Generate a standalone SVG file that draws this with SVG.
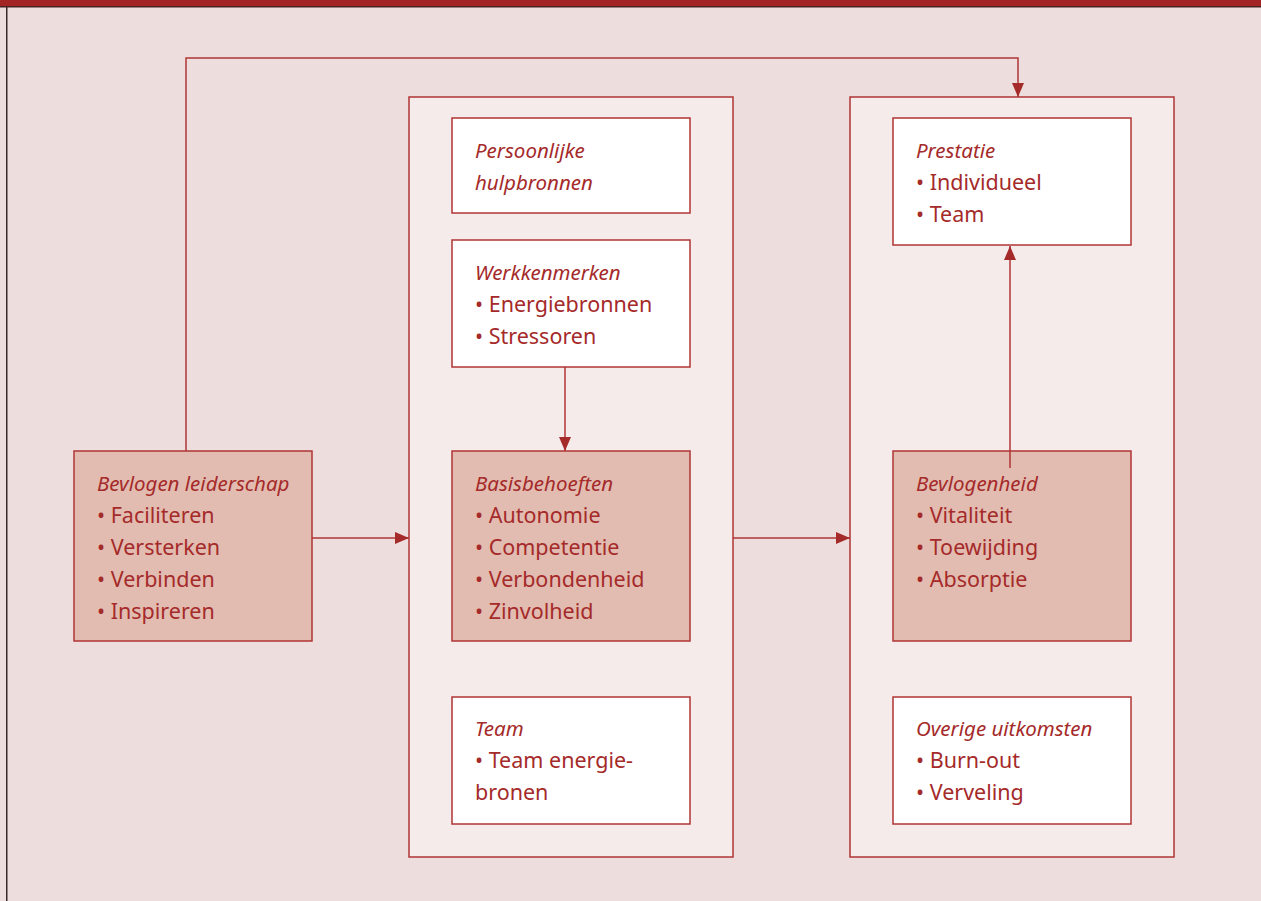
<svg xmlns="http://www.w3.org/2000/svg" width="1261" height="901" viewBox="0 0 1261 901">
<defs>
<style>
.bg{fill:#EDDDDD}
.panel{fill:#F5EBEB;stroke:#B03535;stroke-width:1.5}
.box{fill:#FFFFFF;stroke:#B03535;stroke-width:1.5}
.dark{fill:#E2BCB0;stroke:#B03535;stroke-width:1.5}
.conn{fill:none;stroke:#B03535;stroke-width:1.5}
text{font-family:"Noto Sans","Open Sans",sans-serif;fill:#A52A2A;font-size:21.5px}
.t{font-style:italic;font-size:20.5px}
</style>
<marker id="ah" viewBox="0 0 14 12" refX="14" refY="6" markerWidth="14" markerHeight="12" markerUnits="userSpaceOnUse" orient="auto">
<path d="M0,0 L14,6 L0,12 Z" fill="#A52A2A"/>
</marker>
</defs>
<rect class="bg" x="0" y="0" width="1261" height="901"/>
<rect x="0" y="0" width="1261" height="7" fill="#A32424"/>
<rect x="0" y="6" width="1261" height="1.5" fill="#4A2222"/>
<rect x="6" y="7" width="1.5" height="894" fill="#3A2A2A"/>

<g id="panel-left"><rect class="panel" x="409" y="97" width="324" height="760"/></g>
<g id="panel-right"><rect class="panel" x="850" y="97" width="324" height="760"/></g>

<g id="bevlogen-leiderschap">
<rect class="dark" x="74" y="451" width="238" height="190"/>
<text x="97" y="491" class="t">Bevlogen leiderschap</text>
<text x="97" y="523">• Faciliteren</text>
<text x="97" y="555">• Versterken</text>
<text x="97" y="587">• Verbinden</text>
<text x="97" y="619">• Inspireren</text>
</g>

<g id="persoonlijke-hulpbronnen">
<rect class="box" x="452" y="118" width="238" height="95"/>
<text x="475" y="158" class="t">Persoonlijke</text>
<text x="475" y="190" class="t">hulpbronnen</text>
</g>

<g id="werkkenmerken">
<rect class="box" x="452" y="240" width="238" height="127"/>
<text x="475" y="280" class="t">Werkkenmerken</text>
<text x="475" y="312">• Energiebronnen</text>
<text x="475" y="344">• Stressoren</text>
</g>

<g id="basisbehoeften">
<rect class="dark" x="452" y="451" width="238" height="190"/>
<text x="475" y="491" class="t">Basisbehoeften</text>
<text x="475" y="523">• Autonomie</text>
<text x="475" y="555">• Competentie</text>
<text x="475" y="587">• Verbondenheid</text>
<text x="475" y="619">• Zinvolheid</text>
</g>

<g id="team">
<rect class="box" x="452" y="697" width="238" height="127"/>
<text x="475" y="736" class="t">Team</text>
<text x="475" y="768">• Team energie-</text>
<text x="475" y="800">bronen</text>
</g>

<g id="prestatie">
<rect class="box" x="893" y="118" width="238" height="127"/>
<text x="916" y="158" class="t">Prestatie</text>
<text x="916" y="190">• Individueel</text>
<text x="916" y="222">• Team</text>
</g>

<g id="bevlogenheid">
<rect class="dark" x="893" y="451" width="238" height="190"/>
<text x="916" y="491" class="t">Bevlogenheid</text>
<text x="916" y="523">• Vitaliteit</text>
<text x="916" y="555">• Toewijding</text>
<text x="916" y="587">• Absorptie</text>
</g>

<g id="overige-uitkomsten">
<rect class="box" x="893" y="697" width="238" height="127"/>
<text x="916" y="736" class="t">Overige uitkomsten</text>
<text x="916" y="768">• Burn-out</text>
<text x="916" y="800">• Verveling</text>
</g>

<g id="connectors">
<path class="conn" d="M186,451 V58 H1018 V97" marker-end="url(#ah)"/>
<path class="conn" d="M312,538 H409" marker-end="url(#ah)"/>
<path class="conn" d="M733,538 H850" marker-end="url(#ah)"/>
<path class="conn" d="M565,367 V451" marker-end="url(#ah)"/>
<path class="conn" d="M1010,468 V246" marker-end="url(#ah)"/>
</g>
</svg>
